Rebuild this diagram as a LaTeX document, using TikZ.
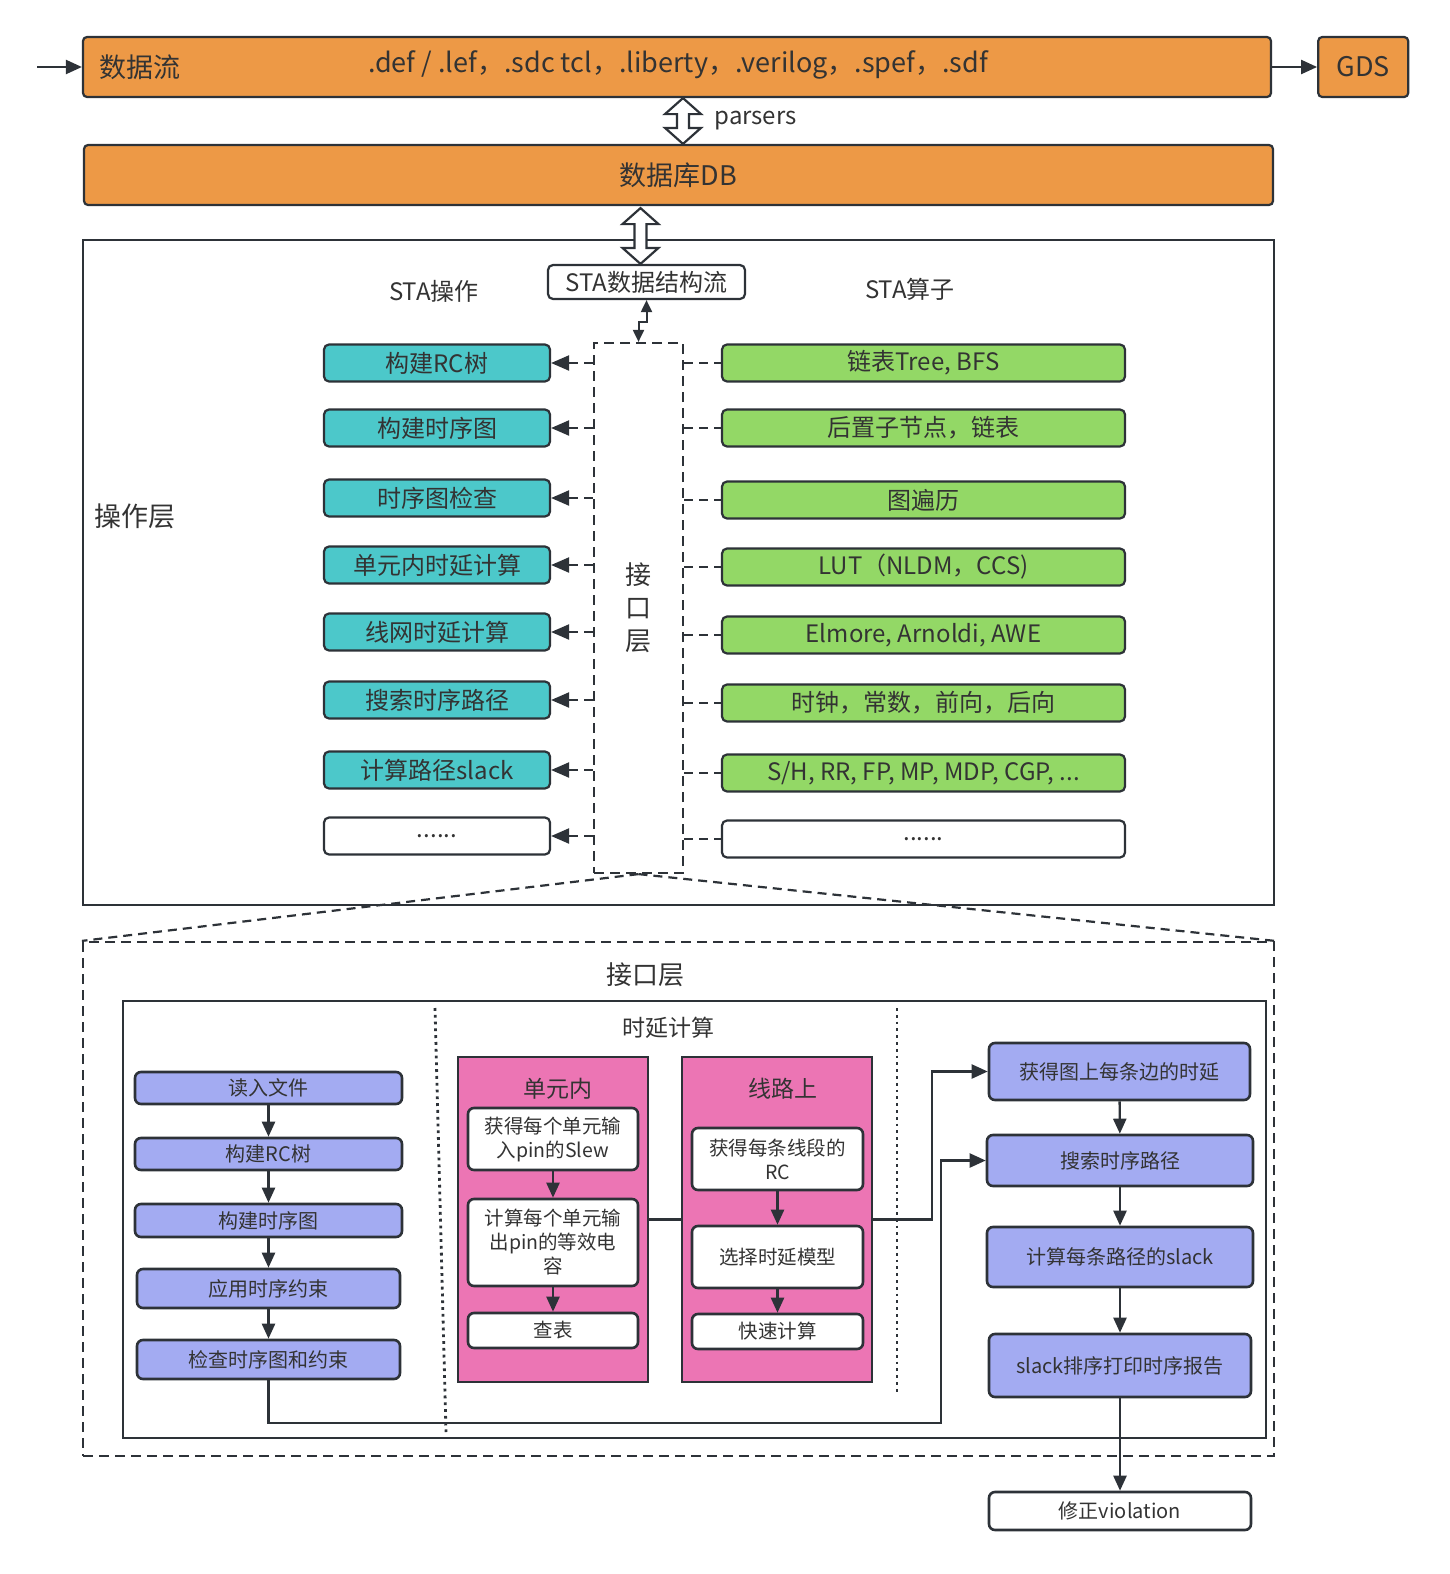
\documentclass[tikz,border=0pt]{standalone}
\usepackage{fontspec}
\setmainfont{Noto Sans CJK SC}
\usepackage{xcolor}
\usetikzlibrary{arrows.meta,positioning,calc}

\definecolor{lineclr}{RGB}{45,50,56}
\definecolor{txtclr}{RGB}{51,51,51}
\definecolor{flowclr}{RGB}{237,153,70}
\definecolor{opclr}{RGB}{76,200,202}
\definecolor{algclr}{RGB}{147,216,102}
\definecolor{stepclr}{RGB}{163,171,242}
\definecolor{delayclr}{RGB}{236,117,180}

% hollow double arrow from #1 (top tip) to #2 (bottom tip)
\newcommand{\hollowarrow}[2]{%
  \draw[hollow] let \p1=#1, \p2=#2, \n1={\y1-\y2-32pt} in
    (\p1) -- ++(18,16) -- ++(-12,0) -- ++(0pt,-\n1) -- ++(12,0) -- (\x1,\y2)
    -- ++(-18,-16) -- ++(12,0) -- ++(0pt,\n1) -- ++(-12,0) -- cycle;}

\begin{document}
\begin{tikzpicture}[x=1pt, y=-1pt,
text=txtclr,
f27/.style={font=\fontsize{27}{32}\selectfont},
f24/.style={font=\fontsize{24}{29}\selectfont},
f20/.style={font=\fontsize{20}{25}\selectfont},
base/.style={draw=lineclr, line width=2.2pt, align=center, inner sep=2pt},
flowbox/.style={base, fill=flowclr, rounded corners=4pt, minimum height=60pt, f27},
opbox/.style={base, fill=opclr, rounded corners=5pt, minimum width=226pt, minimum height=37pt, f24},
algbox/.style={base, fill=algclr, rounded corners=5pt, minimum width=403pt, minimum height=37pt, f24},
stepbox/.style={base, fill=stepclr, rounded corners=6pt, line width=2.6pt, f20},
subbox/.style={base, fill=white, rounded corners=6pt, line width=2.6pt, font=\fontsize{19.5}{24}\selectfont},
delaybox/.style={draw=lineclr, line width=2.6pt, fill=delayclr, minimum width=190pt, minimum height=325pt},
dashbox/.style={draw=lineclr, line width=2.2pt, dash pattern=on 10pt off 6pt},
hollow/.style={draw=lineclr, line width=2.2pt, fill=white, line join=miter},
arr/.style={-{Triangle[length=16pt,width=14pt]}, line width=2.2pt, draw=lineclr},
sarr/.style={-{Triangle[length=15pt,width=13pt]}, line width=2.4pt, draw=lineclr},
dasharr/.style={-{Triangle[length=18pt,width=15pt]}, line width=2.2pt, draw=lineclr, dash pattern=on 9pt off 6pt},
dashln/.style={draw=lineclr, line width=2.2pt, dash pattern=on 9pt off 6pt},
dotln/.style={draw=lineclr, line width=2.8pt, dash pattern=on 2.8pt off 4pt},
ln/.style={draw=lineclr, line width=2.6pt}
]
\useasboundingbox (0,0) rectangle (1449,1574);

% data flow and database
\node[flowbox, minimum width=1188pt] (flow) at (677,67) {};
\node[f27, right=14pt of flow.west] (flowlbl) {数据流};
\node[f27] (files) at (678,65) {.def / .lef，.sdc tcl，.liberty，.verilog，.spef，.sdf};
\node[flowbox, minimum width=90pt, right=45pt of flow] (gds) {GDS};
\coordinate (in) at (37,67);
\draw[arr] (in) -- (flow.west);
\draw[arr] (flow) -- (gds);
\node[flowbox, minimum width=1189pt] (db) at (678.5,175) {数据库DB};
\hollowarrow{([xshift=6pt]flow.south)}{([xshift=6pt]flow.south |- db.north)}
\node[f24, anchor=west] (parsers) at (711,121) {parsers};

% operation layer
\node[draw=lineclr, line width=2pt, minimum width=1191pt, minimum height=665pt] (ops) at (678.5,572.5) {};
\node[f27] (opslbl) at (135,516) {操作层};
\node[f24] (opshead) at (434,291) {STA操作};
\node[f24] (alghead) at (910,289) {STA算子};
\node[base, fill=white, rounded corners=5pt, minimum width=197pt, minimum height=34pt, f24] (dsf) at (646.5,282) {STA数据结构流};
\hollowarrow{($(dsf.north |- db.south)+(-6,2)$)}{([xshift=-6pt]dsf.north)}
\node[dashbox, minimum width=89pt, minimum height=530pt, align=center, font=\fontsize{26}{33}\selectfont] (iface) at (638.5,608) {接\\口\\层};
\draw[{Triangle[length=12pt,width=11pt]}-{Triangle[length=12pt,width=11pt]}, line width=2pt, draw=lineclr] (dsf.south) -- ++(0,22) -| (iface.north);

\node[opbox] (o1) at (437,363) {构建RC树};
\node[opbox] (o2) at (437,428) {构建时序图};
\node[opbox] (o3) at (437,498) {时序图检查};
\node[opbox] (o4) at (437,565) {单元内时延计算};
\node[opbox] (o5) at (437,632) {线网时延计算};
\node[opbox] (o6) at (437,700) {搜索时序路径};
\node[opbox] (o7) at (437,770) {计算路径slack};
\node[opbox, fill=white] (o8) at (437,836) {......};
\draw[dasharr] (iface.west |- o1.east) -- (o1.east);
\draw[dasharr] (iface.west |- o2.east) -- (o2.east);
\draw[dasharr] (iface.west |- o3.east) -- (o3.east);
\draw[dasharr] (iface.west |- o4.east) -- (o4.east);
\draw[dasharr] (iface.west |- o5.east) -- (o5.east);
\draw[dasharr] (iface.west |- o6.east) -- (o6.east);
\draw[dasharr] (iface.west |- o7.east) -- (o7.east);
\draw[dasharr] (iface.west |- o8.east) -- (o8.east);

\node[algbox] (g1) at (923.5,363) {链表Tree, BFS};
\node[algbox] (g2) at (923.5,428) {后置子节点，链表};
\node[algbox] (g3) at (923.5,500) {图遍历};
\node[algbox] (g4) at (923.5,567) {LUT（NLDM，CCS)};
\node[algbox] (g5) at (923.5,635) {Elmore, Arnoldi, AWE};
\node[algbox] (g6) at (923.5,703) {时钟，常数，前向，后向};
\node[algbox] (g7) at (923.5,773) {S/H, RR, FP, MP, MDP, CGP, ...};
\node[algbox, fill=white] (g8) at (923.5,839) {......};
\draw[dashln] (iface.east |- g1.west) -- (g1.west);
\draw[dashln] (iface.east |- g2.west) -- (g2.west);
\draw[dashln] (iface.east |- g3.west) -- (g3.west);
\draw[dashln] (iface.east |- g4.west) -- (g4.west);
\draw[dashln] (iface.east |- g5.west) -- (g5.west);
\draw[dashln] (iface.east |- g6.west) -- (g6.west);
\draw[dashln] (iface.east |- g7.west) -- (g7.west);
\draw[dashln] (iface.east |- g8.west) -- (g8.west);

% interface layer detail
\node[dashbox, minimum width=1191pt, minimum height=514pt] (zoom) at (678.5,1199) {};
\draw[dashln] (iface.south) -- (zoom.north west);
\draw[dashln] (iface.south) -- (zoom.north east);
\node[font=\fontsize{26}{30}\selectfont] (zoomlbl) at (645,975) {接口层};
\node[draw=lineclr, line width=2.6pt, minimum width=1143pt, minimum height=437pt] (inner) at (694.5,1219.5) {};
\draw[dotln] (435,1008) -- (446,1432);
\draw[dotln] (897,1008) -- (897,1393);
\node[font=\fontsize{23}{28}\selectfont] (delaylbl) at (668,1028) {时延计算};

\node[stepbox, minimum width=267pt, minimum height=32pt] (s1) at (268.5,1088) {读入文件};
\node[stepbox, minimum width=267pt, minimum height=32pt] (s2) at (268.5,1154) {构建RC树};
\node[stepbox, minimum width=267pt, minimum height=33pt] (s3) at (268.5,1220.5) {构建时序图};
\node[stepbox, minimum width=263pt, minimum height=39pt] (s4) at (268.5,1288.5) {应用时序约束};
\node[stepbox, minimum width=263pt, minimum height=39pt] (s5) at (268.5,1359.5) {检查时序图和约束};
\draw[sarr] (s1) -- (s2);
\draw[sarr] (s2) -- (s3);
\draw[sarr] (s3) -- (s4);
\draw[sarr] (s4) -- (s5);

\node[delaybox] (cell) at (553,1219.5) {};
\node[font=\fontsize{23}{28}\selectfont] (celllbl) at (558,1089) {单元内};
\node[subbox, minimum width=170pt, minimum height=62pt] (c1) at (553,1139) {获得每个单元输\\入pin的Slew};
\node[subbox, minimum width=170pt, minimum height=87pt] (c2) at (553,1242.5) {计算每个单元输\\出pin的等效电\\容};
\node[subbox, minimum width=170pt, minimum height=35pt] (c3) at (553,1330.5) {查表};
\draw[sarr] (c1) -- (c2);
\draw[sarr] (c2) -- (c3);

\node[delaybox] (wire) at (777,1219.5) {};
\node[font=\fontsize{23}{28}\selectfont] (wirelbl) at (783,1089) {线路上};
\node[subbox, minimum width=171pt, minimum height=62pt] (w1) at (777.5,1159) {获得每条线段的\\RC};
\node[subbox, minimum width=171pt, minimum height=62pt] (w2) at (777.5,1257) {选择时延模型};
\node[subbox, minimum width=171pt, minimum height=35pt] (w3) at (777.5,1331.5) {快速计算};
\draw[sarr] (w1) -- (w2);
\draw[sarr] (w2) -- (w3);
\draw[ln] (cell.east) -- (wire.west);

\node[stepbox, minimum width=261pt, minimum height=57pt] (e1) at (1119.5,1071.5) {获得图上每条边的时延};
\node[stepbox, minimum width=266pt, minimum height=51pt] (e2) at (1120,1160.5) {搜索时序路径};
\node[stepbox, minimum width=266pt, minimum height=60pt] (e3) at (1120,1257) {计算每条路径的slack};
\node[stepbox, minimum width=262pt, minimum height=63pt] (e4) at (1120,1365.5) {slack排序打印时序报告};
\node[stepbox, fill=white, minimum width=262pt, minimum height=38pt] (fix) at (1120,1511) {修正violation};
\draw[sarr] (e1) -- (e2);
\draw[sarr] (e2) -- (e3);
\draw[sarr] (e3) -- (e4);
\draw[sarr] (e4) -- (fix);
\draw[arr] (wire.east) -- ++(59,0) |- (e1.west);
\draw[arr] (s5.south) -- ++(0,43) -- ++(672.5,0) |- (e2.west);
\end{tikzpicture}
\end{document}
